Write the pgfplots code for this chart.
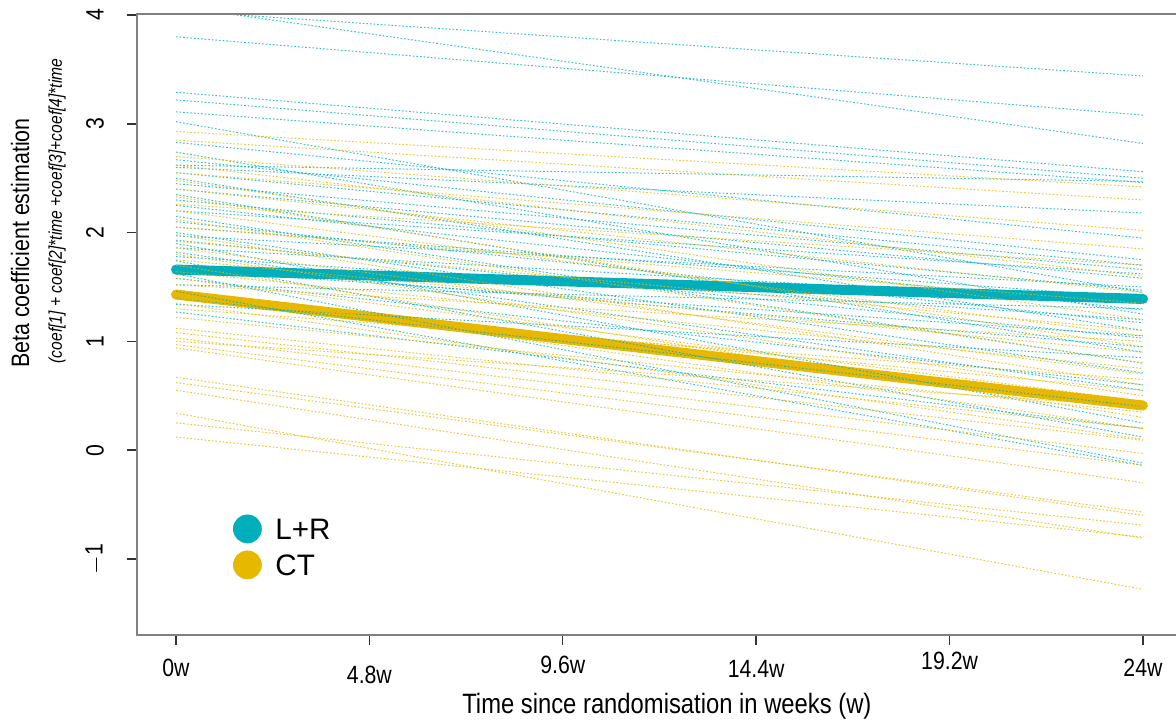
\documentclass[border=0pt]{standalone}
\usepackage{fontspec}
\setmainfont{Liberation Sans}
\newfontfamily\narrowfont{Liberation Sans}[FakeStretch=0.85]
\usepackage{pgfplots}
\pgfplotsset{compat=1.18}
\definecolor{lr}{HTML}{00AFBB}
\definecolor{ct}{HTML}{E7B800}
\newcommand{\lrline}[2]{\addplot[lrthin] coordinates {(0,#1) (24,#2)};}
\newcommand{\ctline}[2]{\addplot[ctthin] coordinates {(0,#1) (24,#2)};}
\begin{document}
\begin{tikzpicture}
\begin{axis}[
  scale only axis, width=519.5pt, height=310.5pt,
  xmin=-0.968, xmax=24.82, ymin=-1.70, ymax=4.01,
  clip mode=individual,
  axis line style={draw=none},
  xtick={0,4.8,9.6,14.4,19.2,24}, ytick={-1,0,1,2,3,4},
  xticklabels={}, yticklabels={},
  tick align=outside, xtick pos=bottom, ytick pos=left,
  major tick length=5pt, tick style={black!80, line width=0.7pt},
  lrthin/.style={lr, line width=0.5pt, dash pattern=on 0.8pt off 1pt, opacity=0.8, forget plot},
  ctthin/.style={ct, line width=0.5pt, dash pattern=on 0.8pt off 1pt, opacity=0.8, forget plot},
  legend style={at={(rel axis cs:0.0924,0.194)}, anchor=north west, draw=none, fill=none,
    inner sep=0pt, row sep=4pt, column sep=7pt,
    nodes={inner sep=0pt, font=\fontsize{14.8pt}{16pt}\selectfont, text height=10.6pt, text depth=0pt}},
  legend cell align=left,
  legend image code/.code={\draw[#1] plot coordinates {(7pt,0pt)};},
]
\addlegendimage{only marks, mark=*, mark size=7pt, lr, fill=lr}
\addlegendentry{L+R}
\addlegendimage{only marks, mark=*, mark size=7pt, ct, fill=ct}
\addlegendentry{CT}
% thick mean lines
\addplot[lr, line width=5pt, line cap=round, forget plot] coordinates {(0,1.66) (24,1.39)};
\addplot[ct, line width=5pt, line cap=round, forget plot] coordinates {(0,1.43) (24,0.41)};
% L+R individual lines
\lrline{4.04}{3.44}
\lrline{4.08}{2.82}
\lrline{3.80}{3.08}
\lrline{3.29}{2.56}
\lrline{3.22}{2.50}
\lrline{3.11}{2.46}
\lrline{3.02}{1.45}
\lrline{2.83}{1.95}
\lrline{2.74}{1.25}
\lrline{2.67}{1.75}
\lrline{2.60}{2.18}
\lrline{2.55}{1.70}
\lrline{2.50}{1.10}
\lrline{2.45}{1.66}
\lrline{2.40}{1.58}
\lrline{2.35}{0.90}
\lrline{2.30}{1.47}
\lrline{2.25}{1.29}
\lrline{2.20}{1.62}
\lrline{2.15}{0.80}
\lrline{2.10}{1.17}
\lrline{2.05}{1.40}
\lrline{2.00}{0.71}
\lrline{1.97}{1.50}
\lrline{1.93}{1.03}
\lrline{1.90}{0.25}
\lrline{1.86}{1.35}
\lrline{1.82}{0.55}
\lrline{1.78}{1.20}
\lrline{1.74}{0.12}
\lrline{1.70}{0.95}
\lrline{1.66}{1.05}
\lrline{1.62}{-0.12}
\lrline{1.58}{0.60}
\lrline{1.52}{1.30}
\lrline{1.46}{-0.14}
\lrline{1.40}{0.40}
\lrline{1.34}{0.85}
\lrline{1.27}{0.20}
\lrline{2.62}{2.47}
% CT individual lines
\ctline{2.93}{2.42}
\ctline{2.85}{2.30}
\ctline{2.70}{2.02}
\ctline{2.62}{1.60}
\ctline{2.55}{1.85}
\ctline{2.48}{1.20}
\ctline{2.40}{1.45}
\ctline{2.33}{0.95}
\ctline{2.26}{1.70}
\ctline{2.20}{1.05}
\ctline{2.12}{0.80}
\ctline{2.05}{1.35}
\ctline{1.98}{0.60}
\ctline{1.92}{1.10}
\ctline{1.86}{0.70}
\ctline{1.80}{0.50}
\ctline{1.75}{0.90}
\ctline{1.70}{0.30}
\ctline{1.64}{0.75}
\ctline{1.58}{0.45}
\ctline{1.52}{1.00}
\ctline{1.47}{0.20}
\ctline{1.40}{0.55}
\ctline{1.35}{0.10}
\ctline{1.30}{0.65}
\ctline{1.22}{0.35}
\ctline{1.12}{0.20}
\ctline{1.08}{0.09}
\ctline{1.03}{-0.03}
\ctline{0.97}{-0.14}
\ctline{0.94}{-0.30}
\ctline{0.67}{-0.60}
\ctline{0.62}{-0.57}
\ctline{0.55}{-0.81}
\ctline{0.34}{-1.28}
\ctline{0.25}{-0.69}
\ctline{0.12}{-0.80}
\ctline{1.00}{0.40}
% frame (left, top, bottom)
\draw[black!50, line width=1pt] (rel axis cs:1,1) -- (rel axis cs:0,1) -- (rel axis cs:0,0) -- (rel axis cs:1,0);
% tick labels
\node[rotate=90, anchor=center, font=\narrowfont\fontsize{12.5pt}{14pt}\selectfont] at ([xshift=-21pt]axis cs:-0.968,-1) {$-$1};
\node[rotate=90, anchor=center, font=\narrowfont\fontsize{12.5pt}{14pt}\selectfont] at ([xshift=-21pt]axis cs:-0.968,0) {0};
\node[rotate=90, anchor=center, font=\narrowfont\fontsize{12.5pt}{14pt}\selectfont] at ([xshift=-21pt]axis cs:-0.968,1) {1};
\node[rotate=90, anchor=center, font=\narrowfont\fontsize{12.5pt}{14pt}\selectfont] at ([xshift=-21pt]axis cs:-0.968,2) {2};
\node[rotate=90, anchor=center, font=\narrowfont\fontsize{12.5pt}{14pt}\selectfont] at ([xshift=-21pt]axis cs:-0.968,3) {3};
\node[rotate=90, anchor=center, font=\narrowfont\fontsize{12.5pt}{14pt}\selectfont] at ([xshift=-21pt]axis cs:-0.968,4) {4};
\node[font=\narrowfont\fontsize{12.5pt}{14pt}\selectfont, anchor=center] at ([yshift=-16.5pt]axis cs:0,-1.70) {0w};
\node[font=\narrowfont\fontsize{12.5pt}{14pt}\selectfont, anchor=center] at ([yshift=-20pt]axis cs:4.8,-1.70) {4.8w};
\node[font=\narrowfont\fontsize{12.5pt}{14pt}\selectfont, anchor=center] at ([yshift=-15pt]axis cs:9.6,-1.70) {9.6w};
\node[font=\narrowfont\fontsize{12.5pt}{14pt}\selectfont, anchor=center] at ([yshift=-17pt]axis cs:14.4,-1.70) {14.4w};
\node[font=\narrowfont\fontsize{12.5pt}{14pt}\selectfont, anchor=center] at ([yshift=-13pt]axis cs:19.2,-1.70) {19.2w};
\node[font=\narrowfont\fontsize{12.5pt}{14pt}\selectfont, anchor=center] at ([yshift=-16.5pt]axis cs:24,-1.70) {24w};
% axis labels
\node[font=\narrowfont\fontsize{14pt}{16pt}\selectfont, anchor=center] at ([yshift=-35.5pt]rel axis cs:0.51,0) {Time since randomisation in weeks (w)};
\node[rotate=90, font=\narrowfont\fontsize{12.6pt}{14pt}\selectfont, anchor=center] at (rel axis cs:-0.1126,0.631) {Beta coefficient estimation};
\node[rotate=90, font=\narrowfont\itshape\fontsize{9.2pt}{11pt}\selectfont, anchor=center] at (rel axis cs:-0.077,0.683) {(coef[1] + coef[2]*time +coef[3]+coef[4]*time};
\end{axis}
\pgfresetboundingbox
\path ([xshift=-68.5pt,yshift=-42.5pt]current axis.south west) rectangle ([yshift=7pt]current axis.north east);
\end{tikzpicture}
\end{document}
